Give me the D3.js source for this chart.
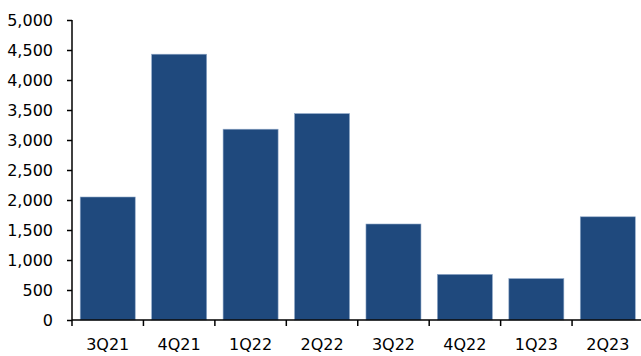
<!DOCTYPE html>
<html><head><meta charset="utf-8">
<script src="https://cdn.jsdelivr.net/npm/d3@7"></script>
<style>
html,body{margin:0;padding:0;background:#fff;}
svg{display:block;}
</style></head>
<body>
<svg id="chart" width="641" height="356"></svg>
<script>
const categories = ["3Q21","4Q21","1Q22","2Q22","3Q22","4Q22","1Q23","2Q23"];
const values = [2050, 4430, 3180, 3440, 1600, 760, 690, 1720];
const yTicks = [0,500,1000,1500,2000,2500,3000,3500,4000,4500,5000];

const svg = d3.select("#chart");
const mLeft = 72, mRight = 643.5, mTop = 20, mBottom = 320;
const font = "'DejaVu Sans', sans-serif";

const xBand = d3.scaleBand().domain(categories).range([mLeft, mRight]).paddingInner(0.23).paddingOuter(0.115);
const xStep = d3.scaleBand().domain(categories).range([mLeft, mRight]).padding(0);
const y = d3.scaleLinear().domain([0, 5000]).range([mBottom, mTop]);

// bars
svg.append("g").selectAll("rect").data(values).join("rect")
  .attr("x", (d,i) => xBand(categories[i]))
  .attr("width", xBand.bandwidth())
  .attr("y", d => y(d))
  .attr("height", d => y(0) - y(d))
  .attr("fill", "#1f497d")
  .attr("stroke", "#8fa8c8")
  .attr("stroke-width", 0.6);

// y axis
const yAxis = svg.append("g").attr("transform", `translate(${mLeft},0)`)
  .call(d3.axisLeft(y).tickValues(yTicks).tickSize(5).tickPadding(14)
    .tickFormat(d3.format(",")));
yAxis.select(".domain").attr("stroke", "#000").attr("stroke-width", 1.5).attr("d", `M0,${mTop}V${mBottom}`);
yAxis.selectAll(".tick line").attr("stroke", "#000").attr("stroke-width", 1.5);
yAxis.selectAll("text").attr("font-family", font).attr("font-size", 16).attr("fill", "#000");

// x axis
const xg = svg.append("g").attr("transform", `translate(0,${mBottom})`);
xg.append("line").attr("x1", mLeft).attr("x2", 641).attr("y1", 0).attr("y2", 0)
  .attr("stroke", "#000").attr("stroke-width", 1.5);
xg.selectAll("line.tk").data(categories).join("line").attr("class","tk")
  .attr("x1", d => xStep(d)).attr("x2", d => xStep(d))
  .attr("y1", 0).attr("y2", 6).attr("stroke", "#000").attr("stroke-width", 1.5);
xg.selectAll("text").data(categories).join("text")
  .attr("x", d => xStep(d) + xStep.bandwidth()/2)
  .attr("y", 30)
  .attr("text-anchor", "middle")
  .attr("font-family", font).attr("font-size", 16).attr("fill", "#000")
  .text(d => d);
</script>
</body></html>
